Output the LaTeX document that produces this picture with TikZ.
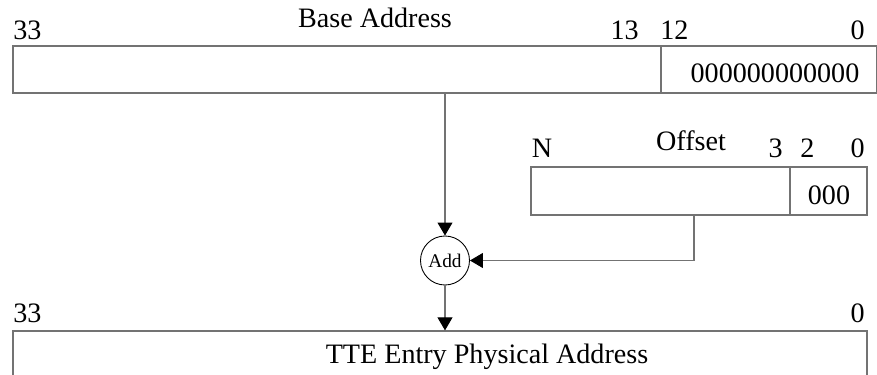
\documentclass[tikz,border=0pt]{standalone}
\usepackage{fontspec}
\setmainfont{Liberation Serif}
\usetikzlibrary{arrows.meta}

\begin{document}
\begin{tikzpicture}[x=0.02cm, y=-0.02cm]
		\tikzset{fld/.style={rectangle, draw=black!55, line width=0.7pt, inner sep=0pt},
			bit/.style={inner sep=0pt, font=\fontsize{16}{18}\selectfont},
			arr/.style={draw=black!55, line width=0.6pt, -{Triangle[length=7.4pt, width=8.5pt, color=black, fill=black]}}};

		\useasboundingbox (0, 0) rectangle (877, 375);

		\node[fld, minimum width=129.6mm, minimum height=9.4mm] (basehi) at (337, 69.5) {};
		\node[fld, minimum width=43.1mm, minimum height=9.4mm] (baselo) at (768.75, 69.5) {};
		\node[fld, minimum width=51.8mm, minimum height=9.6mm] (offhi) at (660.5, 191) {};
		\node[fld, minimum width=15.4mm, minimum height=9.6mm] (offlo) at (828.5, 191) {};
		\node[fld, minimum width=170.8mm, minimum height=10.4mm] (tte) at (440, 357) {};
		\node[circle, draw=black, line width=0.5pt, minimum size=9.8mm, inner sep=0pt, font=\fontsize{11}{13}\selectfont] (add) at (445, 260.5) {Add};

		\node[bit, anchor=base west] (b33) at (13, 39.5) {33};
		\node[bit, anchor=base] (bname) at (375, 28) {Base Address};
		\node[bit, anchor=base east] (b13) at (639, 39.5) {13};
		\node[bit, anchor=base west] (b12) at (660, 39.5) {12};
		\node[bit, anchor=base east] (b0) at (865, 39.5) {0};
		\node[bit, anchor=base] (bzero) at (775, 83) {000000000000};

		\node[bit, anchor=base west] (on) at (531.5, 158) {N};
		\node[bit, anchor=base] (oname) at (691, 150.5) {Offset};
		\node[bit, anchor=base east] (o3) at (783, 158) {3};
		\node[bit, anchor=base west] (o2) at (800, 158) {2};
		\node[bit, anchor=base east] (o0) at (865, 158) {0};
		\node[bit, anchor=base] (ozero) at (829, 205) {000};

		\node[bit, anchor=base west] (p33) at (13, 323) {33};
		\node[bit, anchor=base east] (p0) at (865, 323) {0};
		\node[bit, anchor=base] (pname) at (487, 363) {TTE Entry Physical Address};

		\coordinate (tap) at (694, 215);

		\draw[arr] (basehi.south -| add) to (add);
		\draw[arr] (tap) |- (add);
		\draw[arr] (add) to (add |- tte.north);

	\end{tikzpicture}
\end{document}
